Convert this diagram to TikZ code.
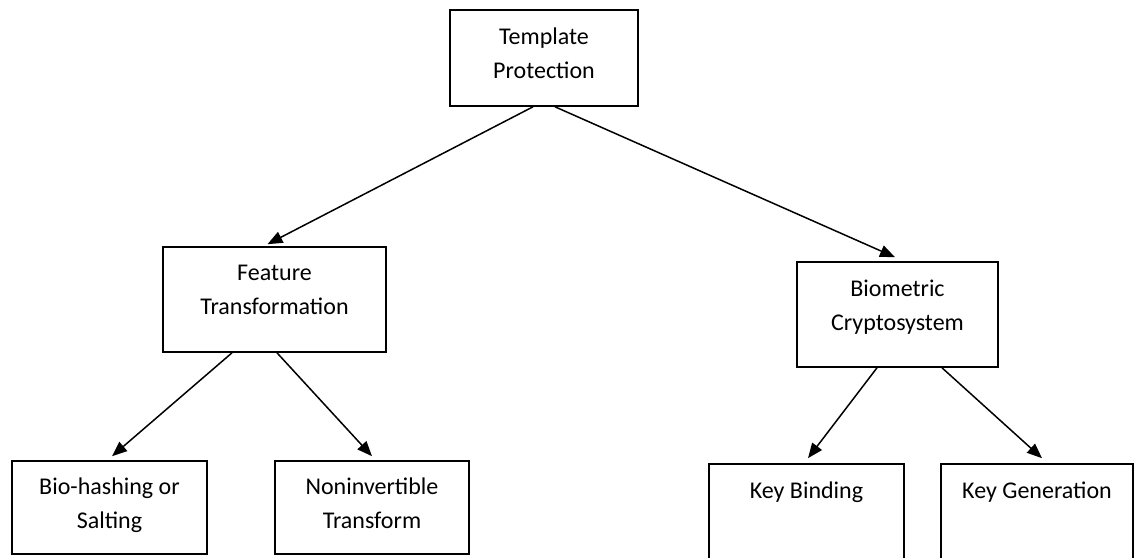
\documentclass[tikz,border=0pt]{standalone}
\usepackage{fontspec}
\setmainfont{Carlito}
\usetikzlibrary{arrows.meta}
\begin{document}
\begin{tikzpicture}[x=1pt,y=-1pt,
  box/.style={draw=black, line width=1.6pt, fill=white, inner sep=0pt},
  line/.style={anchor=base, inner sep=0pt, font=\fontsize{24}{34}\selectfont},
  link/.style={draw=black, line width=1.5pt, -{Triangle[length=15pt,width=12pt]}}]
\clip (0,0) rectangle (1135,557);

% boxes
\node[box, minimum width=188pt, minimum height=96pt]  (tp) at (544,58)    {};
\node[box, minimum width=223pt, minimum height=105pt] (ft) at (274.5,299.5) {};
\node[box, minimum width=201pt, minimum height=105pt] (bc) at (897.5,314.5) {};
\node[box, minimum width=195pt, minimum height=93pt]  (bh) at (109.5,507.5) {};
\node[box, minimum width=194pt, minimum height=93pt]  (ni) at (372,507.5)   {};
\node[box, minimum width=195pt, minimum height=110pt] (kb) at (806.5,519)   {};
\node[box, minimum width=192pt, minimum height=110pt] (kg) at (1037,519)    {};

% labels, one node per line
\node[line] (tp1) at ([yshift=-35pt]tp.north) {Template};
\node[line] (tp2) at ([yshift=-69pt]tp.north) {Protection};
\node[line] (ft1) at ([yshift=-34pt]ft.north) {Feature};
\node[line] (ft2) at ([yshift=-68pt]ft.north) {Transformation};
\node[line] (bc1) at ([yshift=-35pt]bc.north) {Biometric};
\node[line] (bc2) at ([yshift=-69pt]bc.north) {Cryptosystem};
\node[line] (bh1) at ([yshift=-34pt]bh.north) {Bio-hashing or};
\node[line] (bh2) at ([yshift=-68pt]bh.north) {Salting};
\node[line] (ni1) at ([yshift=-34pt]ni.north) {Noninvertible};
\node[line] (ni2) at ([yshift=-68pt]ni.north) {Transform};
\node[line] (kb1) at ([yshift=-35pt]kb.north) {Key Binding};
\node[line] (kg1) at ([yshift=-35pt]kg.north) {Key Generation};

% connectors
\draw[link] ([xshift=-11pt]tp.south)   -- ([xshift=-7pt,yshift=2pt]ft.north);
\draw[link] ([xshift=11pt]tp.south)    -- ([xshift=-2.5pt,yshift=4pt]bc.north);
\draw[link] ([xshift=-42.5pt]ft.south) -- ([xshift=2.5pt,yshift=4pt]bh.north);
\draw[link] ([xshift=2.5pt]ft.south)   -- ([yshift=4pt]ni.north);
\draw[link] ([xshift=-20.5pt]bc.south) -- ([xshift=1.5pt,yshift=5pt]kb.north);
\draw[link] ([xshift=44.5pt]bc.south)  -- ([xshift=5pt,yshift=5pt]kg.north);
\end{tikzpicture}
\end{document}
